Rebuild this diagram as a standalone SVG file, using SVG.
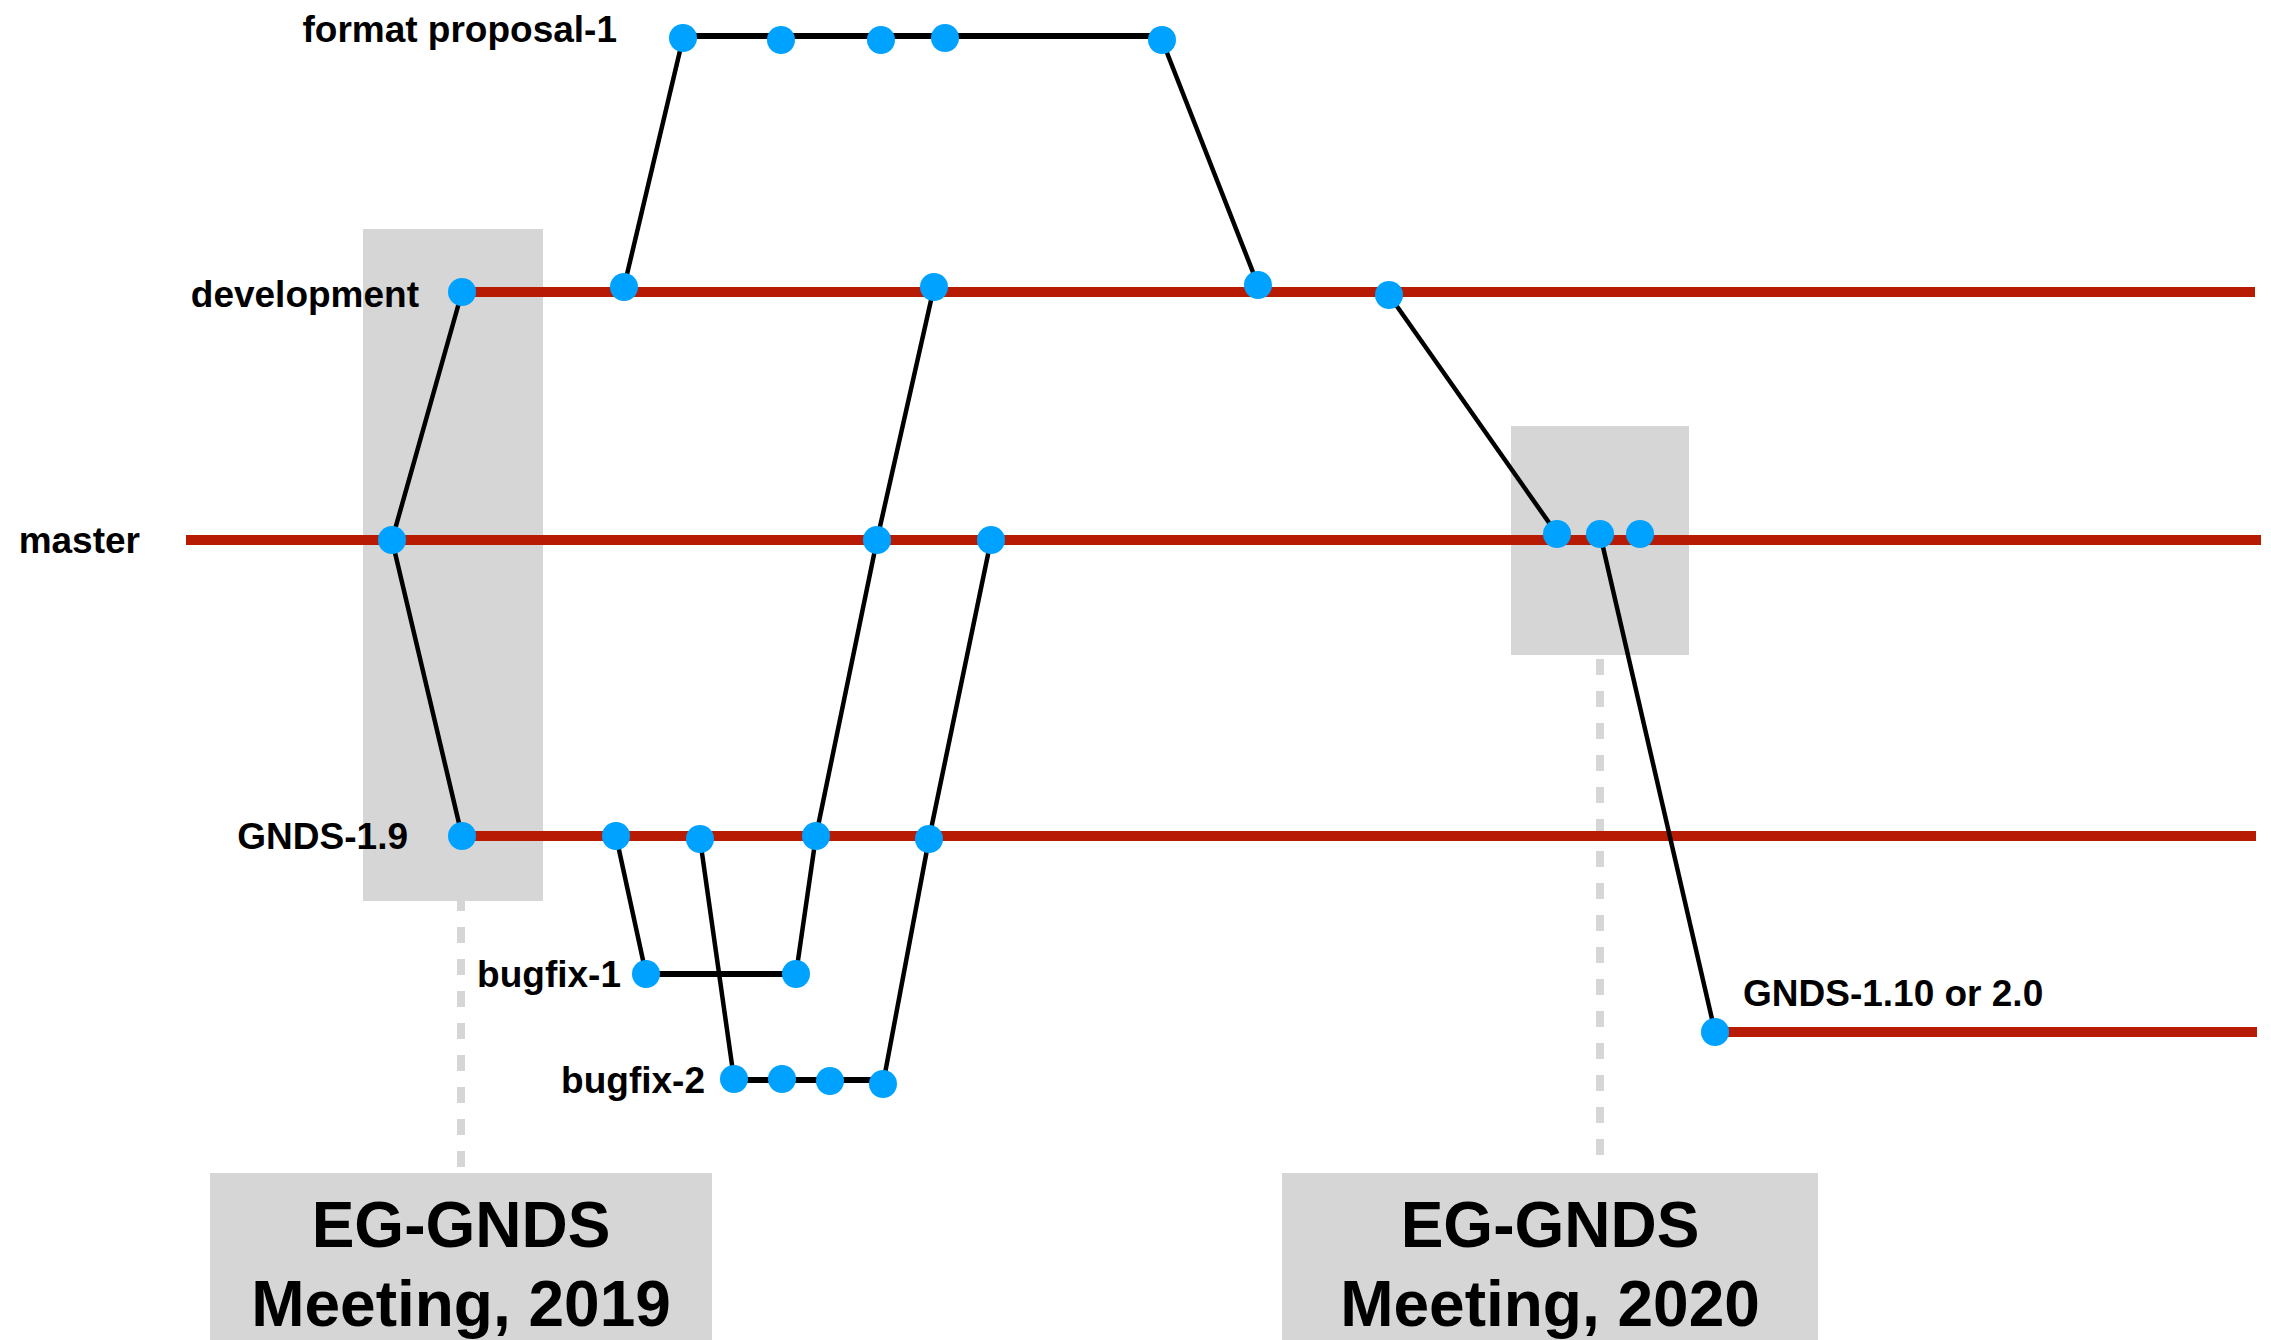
<svg xmlns="http://www.w3.org/2000/svg" width="2271" height="1340" viewBox="0 0 2271 1340">
<style>
.bg{fill:#d6d6d6}
.dash{stroke:#d6d6d6;stroke-width:8;stroke-dasharray:16 16;fill:none}
.branch{stroke:#b81b04;stroke-width:10;fill:none}
.edge{stroke:#000;stroke-width:4.5;fill:none}
.hedge{stroke:#000;stroke-width:6;fill:none}
.node{fill:#00a2ff}
.lbl{font-family:"Liberation Sans",Arial,Helvetica,sans-serif;font-weight:bold;font-size:37px;fill:#000}
.big{font-family:"Liberation Sans",Arial,Helvetica,sans-serif;font-weight:bold;font-size:64px;fill:#000;text-anchor:middle}
</style>
<rect width="2271" height="1340" fill="#fff"/>
<g id="highlights">
<line class="dash" x1="461" y1="895" x2="461" y2="1167"/>
<line class="dash" x1="1600" y1="659" x2="1600" y2="1160"/>
<rect class="bg" x="363" y="229" width="180" height="672"/>
<rect class="bg" x="1511" y="426" width="178" height="229"/>
</g>
<g id="meeting-2019">
<rect class="bg" x="210" y="1173" width="502" height="180"/>
<text class="big" x="461" y="1247">EG-GNDS</text>
<text class="big" x="461" y="1326">Meeting, 2019</text>
</g>
<g id="meeting-2020">
<rect class="bg" x="1282" y="1173" width="536" height="180"/>
<text class="big" x="1550" y="1247">EG-GNDS</text>
<text class="big" x="1550" y="1326">Meeting, 2020</text>
</g>
<g id="branches">
<line class="branch" x1="462" y1="292" x2="2255" y2="292"/>
<line class="branch" x1="186" y1="540" x2="2261" y2="540"/>
<line class="branch" x1="462" y1="836" x2="2256" y2="836"/>
<line class="branch" x1="1715" y1="1032" x2="2257" y2="1032"/>
</g>
<g id="connectors">
<line class="hedge" x1="683" y1="36" x2="1162" y2="36"/>
<line class="hedge" x1="646" y1="974" x2="796" y2="974"/>
<line class="hedge" x1="734" y1="1080" x2="883" y2="1080"/>
<polyline class="edge" points="462,292 392,540 462,836"/>
<line class="edge" x1="624" y1="287" x2="683" y2="38"/>
<line class="edge" x1="1162" y1="40" x2="1258" y2="285"/>
<polyline class="edge" points="934,287 877,540 816,836 796,974"/>
<line class="edge" x1="616" y1="836" x2="646" y2="974"/>
<line class="edge" x1="700" y1="839" x2="734" y2="1079"/>
<polyline class="edge" points="883,1084 929,839 991,540"/>
<line class="edge" x1="1389" y1="295" x2="1557" y2="534"/>
<line class="edge" x1="1600" y1="534" x2="1715" y2="1032"/>
</g>
<g id="nodes">
<g id="fp-1"><circle class="node" cx="683" cy="38" r="14"/></g>
<g id="fp-2"><circle class="node" cx="781" cy="40" r="14"/></g>
<g id="fp-3"><circle class="node" cx="881" cy="40" r="14"/></g>
<g id="fp-4"><circle class="node" cx="945" cy="38" r="14"/></g>
<g id="fp-5"><circle class="node" cx="1162" cy="40" r="14"/></g>
<g id="dev-1"><circle class="node" cx="462" cy="292" r="14"/></g>
<g id="dev-2"><circle class="node" cx="624" cy="287" r="14"/></g>
<g id="dev-3"><circle class="node" cx="934" cy="287" r="14"/></g>
<g id="dev-4"><circle class="node" cx="1258" cy="285" r="14"/></g>
<g id="dev-5"><circle class="node" cx="1389" cy="295" r="14"/></g>
<g id="master-1"><circle class="node" cx="392" cy="540" r="14"/></g>
<g id="master-2"><circle class="node" cx="877" cy="540" r="14"/></g>
<g id="master-3"><circle class="node" cx="991" cy="540" r="14"/></g>
<g id="master-4"><circle class="node" cx="1557" cy="534" r="14"/></g>
<g id="master-5"><circle class="node" cx="1600" cy="534" r="14"/></g>
<g id="master-6"><circle class="node" cx="1640" cy="534" r="14"/></g>
<g id="g19-1"><circle class="node" cx="462" cy="836" r="14"/></g>
<g id="g19-2"><circle class="node" cx="616" cy="836" r="14"/></g>
<g id="g19-3"><circle class="node" cx="700" cy="839" r="14"/></g>
<g id="g19-4"><circle class="node" cx="816" cy="836" r="14"/></g>
<g id="g19-5"><circle class="node" cx="929" cy="839" r="14"/></g>
<g id="bf1-1"><circle class="node" cx="646" cy="974" r="14"/></g>
<g id="bf1-2"><circle class="node" cx="796" cy="974" r="14"/></g>
<g id="bf2-1"><circle class="node" cx="734" cy="1079" r="14"/></g>
<g id="bf2-2"><circle class="node" cx="782" cy="1079" r="14"/></g>
<g id="bf2-3"><circle class="node" cx="830" cy="1081" r="14"/></g>
<g id="bf2-4"><circle class="node" cx="883" cy="1084" r="14"/></g>
<g id="g110-1"><circle class="node" cx="1715" cy="1032" r="14"/></g>
</g>
<g id="labels">
<text class="lbl" x="617" y="42" text-anchor="end">format proposal-1</text>
<text class="lbl" x="419" y="307" text-anchor="end">development</text>
<text class="lbl" x="140" y="553" text-anchor="end">master</text>
<text class="lbl" x="408" y="849" text-anchor="end">GNDS-1.9</text>
<text class="lbl" x="621" y="987" text-anchor="end">bugfix-1</text>
<text class="lbl" x="705" y="1093" text-anchor="end">bugfix-2</text>
<text class="lbl" x="1743" y="1006">GNDS-1.10 or 2.0</text>
</g>
</svg>
